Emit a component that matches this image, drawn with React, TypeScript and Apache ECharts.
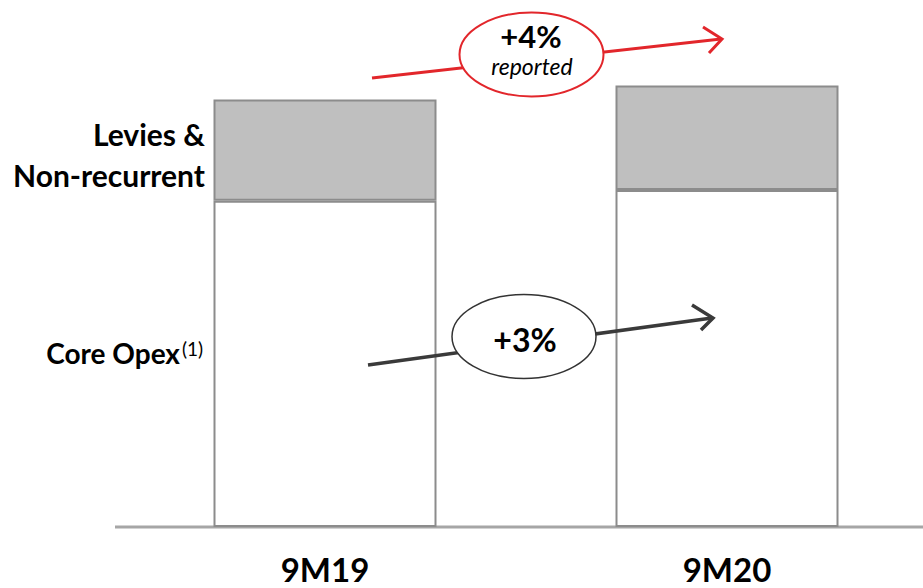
import React, { useEffect, useRef } from "react";
import * as echarts from "echarts";

const categories = ["9M19", "9M20"];
const coreOpex = [100, 103.3];
const leviesNonRecurrent = [31, 32];
const growthLabels = ["+4%", "+3%"];
const growthNotes = ["reported"];
const rowLabels = ["Levies &\nNon-recurrent", "Core Opex", "(1)"];

const FONT = "Lato, 'Noto Sans', sans-serif";

export default function App() {
  const ref = useRef<HTMLDivElement>(null);
  useEffect(() => {
    if (!ref.current) return;
    const chart = echarts.init(ref.current, null, { renderer: "svg" });
    const barBorder = "#8c8c8c";
    const red = "#e2262b";
    const dark = "#3a3a3a";
    chart.setOption({
      animation: false,
      backgroundColor: "#ffffff",
      grid: { left: 124, width: 804, top: 5, bottom: 61, containLabel: false, outerBoundsMode: "none" },
      xAxis: {
        type: "category",
        data: categories,
        axisLine: { show: false },
        axisTick: { show: false },
        axisLabel: { fontSize: 33, fontWeight: "bold", color: "#000", fontFamily: FONT, margin: 25, lineHeight: 33 },
      },
      yAxis: { type: "value", min: 0, max: 160, show: false, splitLine: { show: false } },
      series: [
        {
          name: "Core Opex",
          type: "bar",
          stack: "total",
          barWidth: 223,
          data: coreOpex,
          itemStyle: { color: "#ffffff", borderColor: barBorder, borderWidth: 2 },
        },
        {
          name: "Levies & Non-recurrent",
          type: "bar",
          stack: "total",
          barWidth: 223,
          data: leviesNonRecurrent,
          itemStyle: { color: "#bfbfbf", borderColor: barBorder, borderWidth: 2 },
        },
      ],
      graphic: [
        { type: "line", z: 1, shape: { x1: 115, y1: 527, x2: 923, y2: 527 }, style: { stroke: "#a6a6a6", lineWidth: 3 } },
        {
          type: "text", z: 10, x: 205, y: 154,
          style: { text: rowLabels[0], fontSize: 30, fontWeight: "bold", fontFamily: FONT, fill: "#000", align: "right", verticalAlign: "middle", lineHeight: 41 },
        },
        {
          type: "text", z: 10, x: 180, y: 353,
          style: { text: rowLabels[1], fontSize: 28, fontWeight: "bold", fontFamily: FONT, fill: "#000", align: "right", verticalAlign: "middle" },
        },
        {
          type: "text", z: 10, x: 182, y: 348,
          style: { text: rowLabels[2], fontSize: 19, fontFamily: FONT, fill: "#000", align: "left", verticalAlign: "middle" },
        },
        // red reported arrow
        { type: "line", z: 20, shape: { x1: 372, y1: 78, x2: 721, y2: 39 }, style: { stroke: red, lineWidth: 3 } },
        { type: "polyline", z: 20, shape: { points: [[703, 27], [722, 39], [709, 53]] }, style: { stroke: red, lineWidth: 3, fill: null } },
        { type: "ellipse", z: 21, shape: { cx: 531.5, cy: 54.5, rx: 72, ry: 42 }, style: { fill: "#fff", stroke: red, lineWidth: 2 } },
        {
          type: "text", z: 22, x: 531, y: 36,
          style: { text: growthLabels[0], fontSize: 31, fontWeight: "bold", fontFamily: FONT, fill: "#000", align: "center", verticalAlign: "middle" },
        },
        {
          type: "text", z: 22, x: 532, y: 66,
          style: { text: growthNotes[0], fontSize: 23, fontStyle: "italic", fontFamily: FONT, fill: "#000", align: "center", verticalAlign: "middle" },
        },
        // dark core arrow
        { type: "line", z: 20, shape: { x1: 368, y1: 365, x2: 712, y2: 318 }, style: { stroke: dark, lineWidth: 3.5 } },
        { type: "polyline", z: 20, shape: { points: [[692, 305], [713, 318], [701, 330]] }, style: { stroke: dark, lineWidth: 3.5, fill: null } },
        { type: "ellipse", z: 21, shape: { cx: 524, cy: 336.5, rx: 72, ry: 42 }, style: { fill: "#fff", stroke: "#333", lineWidth: 1.5 } },
        {
          type: "text", z: 22, x: 525, y: 339,
          style: { text: growthLabels[1], fontSize: 32, fontWeight: "bold", fontFamily: FONT, fill: "#000", align: "center", verticalAlign: "middle" },
        },
      ],
    });
    return () => chart.dispose();
  }, []);
  return <div ref={ref} style={{ position: "fixed", left: 0, top: 0, width: 923, height: 588 }} />;
}
